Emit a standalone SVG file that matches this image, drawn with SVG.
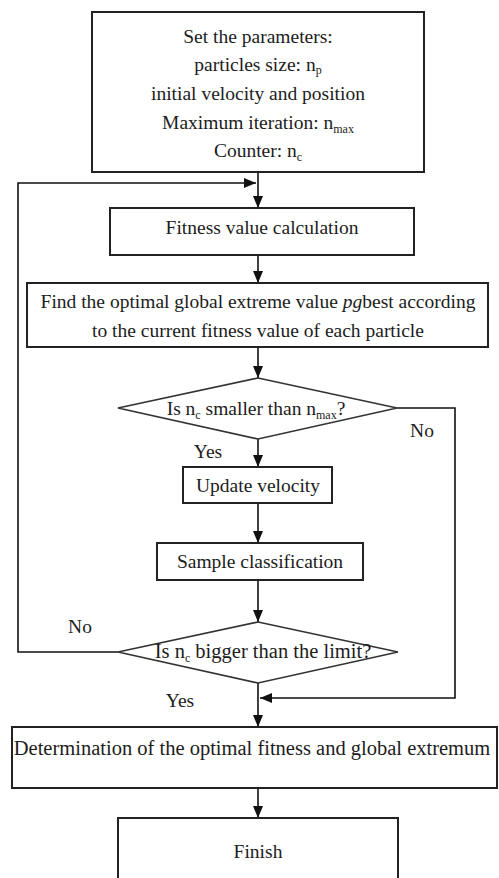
<svg xmlns="http://www.w3.org/2000/svg" width="499" height="878" viewBox="0 0 499 878">
  <defs>
    <marker id="arr" viewBox="0 0 12 10" refX="12" refY="5" markerWidth="12" markerHeight="10" markerUnits="userSpaceOnUse" orient="auto">
      <path d="M0,0 L12,5 L0,10 z" fill="#111"/>
    </marker>
    <style>
      .box { fill: #fff; stroke: #222; stroke-width: 2; }
      .dia { fill: #fff; stroke: #333; stroke-width: 1.6; }
      .t { font-family: 'Liberation Serif', 'DejaVu Serif', serif; font-size: 19.5px; fill: #1c1c1c; text-anchor: middle; }
      .sub { font-size: 12px; }
      .ln { fill: none; stroke: #111; stroke-width: 1.6; }
    </style>
  </defs>
  <rect width="499" height="878" fill="#fff"/>

  <g id="connectors">
    <line class="ln" x1="258" y1="172" x2="258" y2="208" marker-end="url(#arr)"/>
    <polyline class="ln" points="118,652 18,652 18,183 256,183" marker-end="url(#arr)"/>
    <line class="ln" x1="258" y1="255" x2="258" y2="283" marker-end="url(#arr)"/>
    <line class="ln" x1="258" y1="347" x2="258" y2="378" marker-end="url(#arr)"/>
    <polyline class="ln" points="397,408 455,408 455,698 260,698" marker-end="url(#arr)"/>
    <line class="ln" x1="258" y1="439" x2="258" y2="467" marker-end="url(#arr)"/>
    <line class="ln" x1="258" y1="503" x2="258" y2="543" marker-end="url(#arr)"/>
    <line class="ln" x1="258" y1="580" x2="258" y2="622" marker-end="url(#arr)"/>
    <line class="ln" x1="258" y1="683" x2="258" y2="727" marker-end="url(#arr)"/>
    <line class="ln" x1="258" y1="788" x2="258" y2="818" marker-end="url(#arr)"/>
    <text class="t" x="422" y="437">No</text>
    <text class="t" x="208" y="458">Yes</text>
    <text class="t" x="80" y="633">No</text>
    <text class="t" x="180" y="707">Yes</text>
  </g>

  <g id="init">
    <rect class="box" x="92" y="12" width="332" height="160"/>
    <text class="t" x="258" y="43">Set the parameters:</text>
    <text class="t" x="258" y="71">particles size: n<tspan class="sub" dy="3">p</tspan></text>
    <text class="t" x="258" y="100">initial velocity and position</text>
    <text class="t" x="258" y="129">Maximum iteration: n<tspan class="sub" dy="4">max</tspan></text>
    <text class="t" x="258" y="157">Counter: n<tspan class="sub" dy="4">c</tspan></text>
  </g>

  <g id="fitness">
    <rect class="box" x="110" y="208" width="304" height="47"/>
    <text class="t" x="262" y="234">Fitness value calculation</text>
  </g>

  <g id="find">
    <rect class="box" x="27" y="283" width="461" height="64"/>
    <text class="t" x="258" y="308">Find the optimal global extreme value <tspan font-style="italic">pg</tspan>best according</text>
    <text class="t" x="258" y="337">to the current fitness value of each particle</text>
  </g>

  <g id="check-max">
    <polygon class="dia" points="258,378 397,408 258,439 118,408"/>
    <text class="t" x="256" y="415">Is n<tspan class="sub" dy="4">c</tspan><tspan dy="-4"> smaller than n</tspan><tspan class="sub" dy="4">max</tspan><tspan dy="-4">?</tspan></text>
  </g>

  <g id="update">
    <rect class="box" x="183" y="467" width="149" height="36"/>
    <text class="t" x="258" y="492">Update velocity</text>
  </g>

  <g id="sample">
    <rect class="box" x="157" y="543" width="206" height="37"/>
    <text class="t" x="260" y="568">Sample classification</text>
  </g>

  <g id="check-limit">
    <polygon class="dia" points="258,622 398,652 258,683 118,652"/>
    <text class="t" x="263" y="658" style="font-size:20.5px">Is n<tspan class="sub" dy="4">c</tspan><tspan dy="-4"> bigger than the limit?</tspan></text>
  </g>

  <g id="determination">
    <rect class="box" x="12" y="727" width="485" height="61"/>
    <text class="t" x="252" y="755" style="font-size:20.5px">Determination of the optimal fitness and global extremum</text>
  </g>

  <g id="finish">
    <rect class="box" x="118" y="818" width="280" height="70"/>
    <text class="t" x="258" y="858">Finish</text>
  </g>
</svg>
